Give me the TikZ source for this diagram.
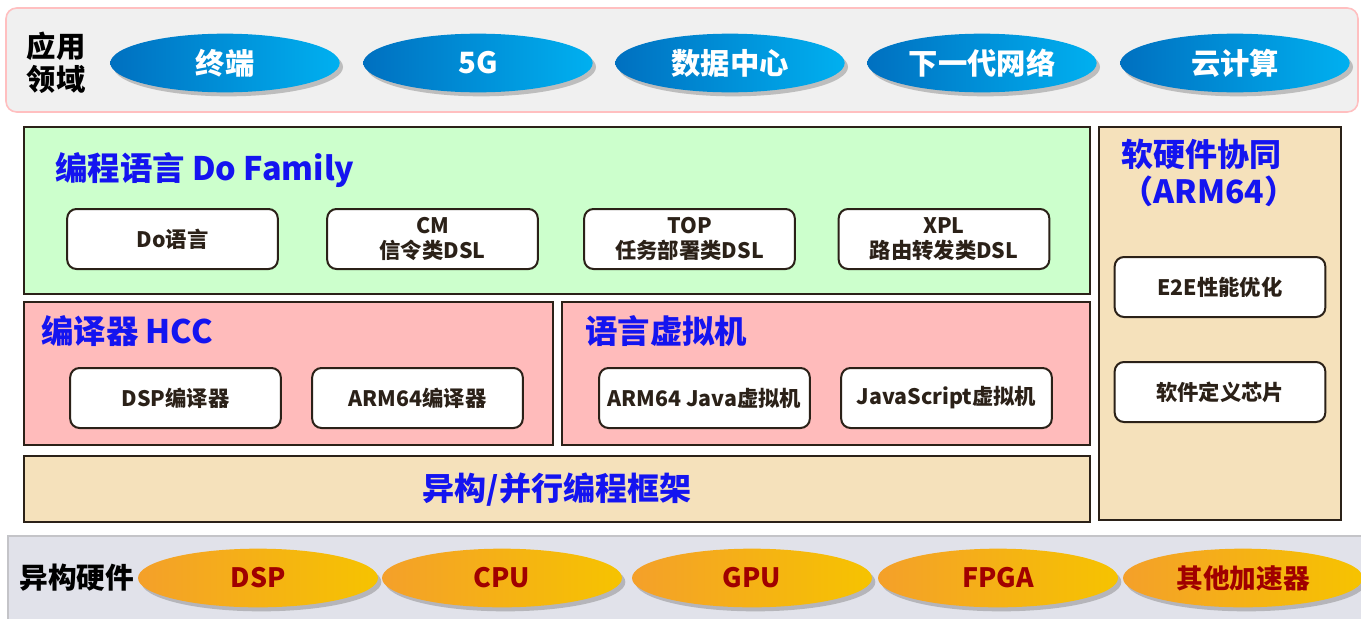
\documentclass[tikz,border=0pt]{standalone}
\usepackage{fontspec}
\setmainfont{Noto Sans CJK SC}
\usetikzlibrary{shapes.geometric,shadows}

\definecolor{bandgray}{HTML}{F0F0F0}
\definecolor{bandpink}{HTML}{FFBFC0}
\definecolor{hwgray}{HTML}{E1E2EA}
\definecolor{hwline}{HTML}{C4C4C8}
\definecolor{boxline}{HTML}{2B2118}
\definecolor{langgreen}{HTML}{CCFFCC}
\definecolor{comppink}{HTML}{FFBBBB}
\definecolor{framebeige}{HTML}{F5E1BB}
\definecolor{titleblue}{HTML}{1414F0}
\definecolor{skyA}{HTML}{0070C0}
\definecolor{skyB}{HTML}{00B0F0}
\definecolor{goldA}{HTML}{F4A02A}
\definecolor{goldB}{HTML}{E4AA00}
\definecolor{goldC}{HTML}{F6C300}
\definecolor{hwred}{HTML}{A00000}

\tikzset{
  appell/.style={ellipse, minimum width=172pt, minimum height=44pt, inner sep=0pt,
    left color=skyA, right color=skyB, text=white,
    drop shadow={shadow xshift=2.5pt, shadow yshift=-3pt, opacity=0.45},
    font=\bfseries\fontsize{22}{25}\selectfont},
  hwell/.style={ellipse, minimum width=180pt, minimum height=44pt, inner sep=0pt,
    left color=goldA, middle color=goldB, right color=goldC, text=hwred,
    drop shadow={shadow xshift=2.5pt, shadow yshift=-3pt, opacity=0.45},
    font=\bfseries\fontsize{20}{22}\selectfont},
  layer/.style={draw=boxline, line width=1.6pt},
  item/.style={draw=boxline, line width=1.5pt, fill=white, rounded corners=7pt,
    minimum width=158pt, minimum height=45pt, inner sep=0pt, align=center,
    font=\bfseries\fontsize{16}{18.5}\selectfont, text=boxline},
  layertitle/.style={anchor=west, inner sep=0pt, text=titleblue,
    font=\bfseries\fontsize{24.3}{27}\selectfont},
}

\begin{document}
\begin{tikzpicture}[x=0.75pt,y=0.75pt,yscale=-1,xscale=1]
\useasboundingbox (0,0) rectangle (1361,618);

% application band
\draw[draw=bandpink, fill=bandgray, line width=1.2pt, rounded corners=8pt] (6,8) rectangle (1358,112);
\node[anchor=center, align=left, inner sep=0pt, font=\bfseries\fontsize{22}{25}\selectfont] (appl) at (56,63) {应用\\领域};
\node[appell] (term) at (225,63) {终端};
\node[appell] (fiveg) at (478,63) {5G};
\node[appell] (dcenter) at (730,63) {数据中心};
\node[appell] (nextnet) at (982,63) {下一代网络};
\node[appell] (cloud) at (1235,63) {云计算};

% programming languages
\draw[layer, fill=langgreen] (24,127) rectangle (1090,294);
\node[layertitle] (langt) at (55,170) {编程语言 Do Family};
\node[item] (dolang) at (172.5,239) {Do语言};
\node[item] (cmdsl) at (432.5,239) {CM\\信令类DSL};
\node[item] (topdsl) at (689.5,239) {TOP\\任务部署类DSL};
\node[item] (xpldsl) at (944,239) {XPL\\路由转发类DSL};

% compiler and virtual machine
\draw[layer, fill=comppink] (24,302) rectangle (553,445);
\draw[layer, fill=comppink] (562,302) rectangle (1090,445);
\node[layertitle] (hcct) at (41,331) {编译器 HCC};
\node[layertitle] (vmt) at (585,331) {语言虚拟机};
\node[item] (dspc) at (175.5,398) {DSP编译器};
\node[item] (armc) at (417.5,398) {ARM64编译器};
\node[item] (javavm) at (704.5,398) {ARM64 Java虚拟机};
\node[item] (jsvm) at (946.5,398) {JavaScript虚拟机};

% framework
\draw[layer, fill=framebeige] (24,456) rectangle (1090,522);
\node[inner sep=0pt, text=titleblue, font=\bfseries\fontsize{24}{26}\selectfont] (frame) at (557,490) {异构/并行编程框架};

% hw/sw co-design
\draw[layer, fill=framebeige] (1099,127) rectangle (1341,520);
\node[anchor=north west, align=left, inner sep=0pt, text=titleblue, font=\bfseries\fontsize{24}{27.5}\selectfont] (cot) at (1121,139) {软硬件协同\\（ARM64）};
\node[item] (e2e) at (1220,287) {E2E性能优化};
\node[item] (sdchip) at (1220,392) {软件定义芯片};

% hardware band
\draw[draw=hwline, fill=hwgray, line width=1.2pt] (8,536) rectangle (1372,630);
\node[inner sep=0pt, font=\bfseries\fontsize{21.5}{24}\selectfont] (hwt) at (77,578) {异构硬件};
\node[hwell] (dsp) at (258,578) {DSP};
\node[hwell] (cpu) at (502,578) {CPU};
\node[hwell] (gpu) at (752,578) {GPU};
\node[hwell] (fpga) at (998,578) {FPGA};
\node[hwell] (accel) at (1243,578) {其他加速器};

\end{tikzpicture}
\end{document}
